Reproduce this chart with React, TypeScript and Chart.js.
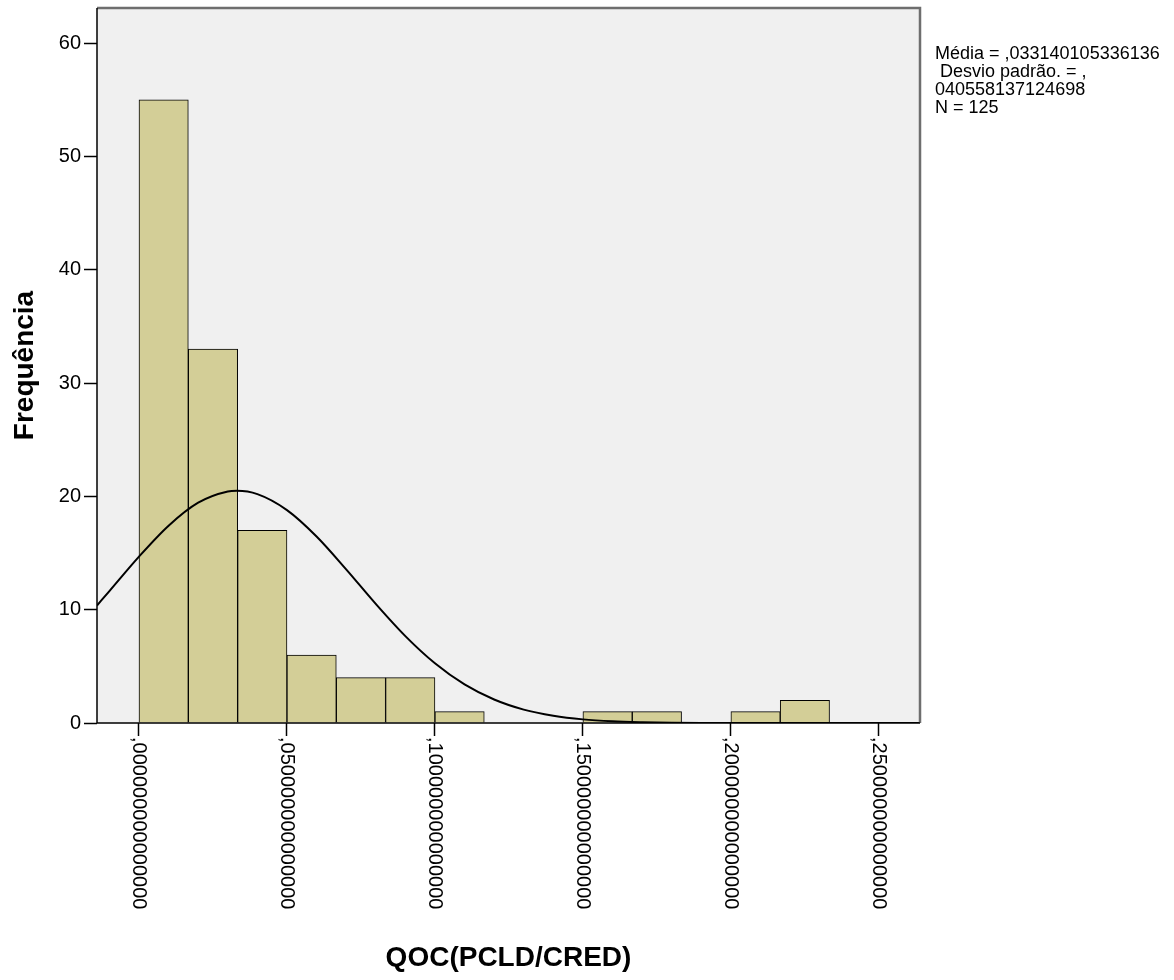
import React, { useEffect, useRef } from "react";
import { Chart, registerables } from "chart.js";

Chart.register(...registerables);

// Histogram bins (centres of bins of width ~0.016667)
const binCenters = [0.008333, 0.025, 0.041667, 0.058333, 0.075, 0.091667, 0.108333, 0.125, 0.141667, 0.158333, 0.175, 0.191667, 0.208333, 0.225];
const frequencies = [55, 33, 17, 6, 4, 4, 1, 0, 0, 1, 1, 0, 1, 2];

// Normal curve
const curveX = [-0.0142, -0.01, 0, 0.01, 0.02, 0.03, 0.0331, 0.04, 0.05, 0.06, 0.07, 0.08, 0.09, 0.1, 0.11, 0.12, 0.13, 0.14, 0.15, 0.16, 0.17, 0.18, 0.19, 0.2, 0.22, 0.264];
const curveY = [10.37, 11.64, 14.68, 17.41, 19.44, 20.43, 20.49, 20.2, 18.79, 16.46, 13.56, 10.51, 7.67, 5.27, 3.4, 2.07, 1.18, 0.64, 0.32, 0.15, 0.07, 0.03, 0.01, 0.004, 0.001, 0];

const xTickValues = [0, 0.05, 0.1, 0.15, 0.2, 0.25];
const xTickLabels = [",000000000000000", ",050000000000000", ",100000000000000", ",150000000000000", ",200000000000000", ",250000000000000"];
const yTickValues = [0, 10, 20, 30, 40, 50, 60];

const statLines = ["Média = ,033140105336136", " Desvio padrão. = ,", "040558137124698", "N = 125"];

const xTitle = "QOC(PCLD/CRED)";
const yTitle = "Frequência";

const FONT = "'Liberation Sans', Arial, sans-serif";

export default function App() {
  const ref = useRef<HTMLCanvasElement | null>(null);

  useEffect(() => {
    if (!ref.current) return;
    const decor = {
      id: "decor",
      beforeDraw(chart: any) {
        const { ctx, chartArea: a } = chart;
        ctx.save();
        ctx.fillStyle = "#ffffff";
        ctx.fillRect(0, 0, chart.width, chart.height);
        ctx.fillStyle = "#f0f0f0";
        ctx.fillRect(a.left, a.top, a.right - a.left, a.bottom - a.top);
        ctx.restore();
      },
      afterDraw(chart: any) {
        const { ctx, chartArea: a } = chart;
        const xs = chart.scales.x;
        ctx.save();
        // frame
        ctx.strokeStyle = "#6e6e6e";
        ctx.lineWidth = 2.5;
        ctx.beginPath();
        ctx.moveTo(a.left, a.top);
        ctx.lineTo(a.right, a.top);
        ctx.lineTo(a.right, a.bottom);
        ctx.stroke();
        ctx.strokeStyle = "#000000";
        ctx.lineWidth = 1.5;
        ctx.beginPath();
        ctx.moveTo(a.left, a.top);
        ctx.lineTo(a.left, a.bottom);
        ctx.lineTo(a.right, a.bottom);
        ctx.stroke();
        // x tick labels rotated clockwise
        ctx.fillStyle = "#000";
        ctx.font = `20px ${FONT}`;
        ctx.textAlign = "left";
        ctx.textBaseline = "middle";
        xTickValues.forEach((v, i) => {
          const px = xs.getPixelForValue(v);
          ctx.save();
          ctx.translate(px, a.bottom + 14);
          ctx.rotate(Math.PI / 2);
          ctx.fillText(xTickLabels[i], 0, 0);
          ctx.restore();
        });
        // axis titles
        ctx.font = `bold 28px ${FONT}`;
        ctx.textAlign = "center";
        ctx.textBaseline = "middle";
        ctx.fillText(xTitle, (a.left + a.right) / 2, 958);
        ctx.save();
        ctx.translate(25, (a.top + a.bottom) / 2);
        ctx.rotate(-Math.PI / 2);
        ctx.fillText(yTitle, 0, 0);
        ctx.restore();
        // stats text
        ctx.font = `18px ${FONT}`;
        ctx.textAlign = "left";
        ctx.textBaseline = "alphabetic";
        const baselines = [59, 77, 95, 113];
        statLines.forEach((t, i) => ctx.fillText(t, 935, baselines[i]));
        ctx.restore();
      },
    };

    const chart = new Chart(ref.current, {
      type: "bar",
      data: {
        datasets: [
          {
            type: "line",
            data: curveX.map((x, i) => ({ x, y: curveY[i] })),
            borderColor: "#000000",
            borderWidth: 2,
            pointRadius: 0,
            fill: false,
            cubicInterpolationMode: "monotone",
            order: 0,
          } as any,
          {
            type: "bar",
            data: binCenters.map((x, i) => ({ x, y: frequencies[i] })),
            backgroundColor: "#d3ce97",
            borderColor: "#000000",
            borderWidth: 1,
            barPercentage: 1,
            categoryPercentage: 1,
            order: 1,
          } as any,
        ],
      },
      options: {
        responsive: false,
        animation: false,
        events: [],
        layout: { padding: { top: 8, right: 254, left: 0, bottom: 0 } },
        plugins: { legend: { display: false }, tooltip: { enabled: false } },
        scales: {
          x: {
            type: "linear",
            min: -0.01419,
            max: 0.2639,
            offset: false,
            grid: { offset: false, drawOnChartArea: false, drawTicks: true, tickLength: 13, tickColor: "#000", tickWidth: 1.5 },
            border: { display: false },
            ticks: { display: false },
            afterBuildTicks: (s: any) => {
              s.ticks = xTickValues.map((v) => ({ value: v }));
            },
            afterFit: (s: any) => {
              s.height = 257;
              s.paddingLeft = 0;
              s.paddingRight = 0;
            },
          },
          y: {
            type: "linear",
            min: 0,
            max: 63.1,
            grid: { drawOnChartArea: false, drawTicks: true, tickLength: 13, tickColor: "#000", tickWidth: 1.5 },
            border: { display: false },
            ticks: { color: "#000", font: { size: 20, family: FONT }, padding: 3 },
            afterBuildTicks: (s: any) => {
              s.ticks = yTickValues.map((v) => ({ value: v }));
            },
            afterFit: (s: any) => {
              s.width = 97;
              s.paddingTop = 0;
              s.paddingBottom = 0;
            },
          },
        },
      } as any,
      plugins: [decor],
    });
    return () => chart.destroy();
  }, []);

  return (
    <div style={{ position: "absolute", left: 0, top: 0, width: 1174, height: 980 }}>
      <canvas ref={ref} width={1174} height={980} style={{ display: "block" }} />
    </div>
  );
}
